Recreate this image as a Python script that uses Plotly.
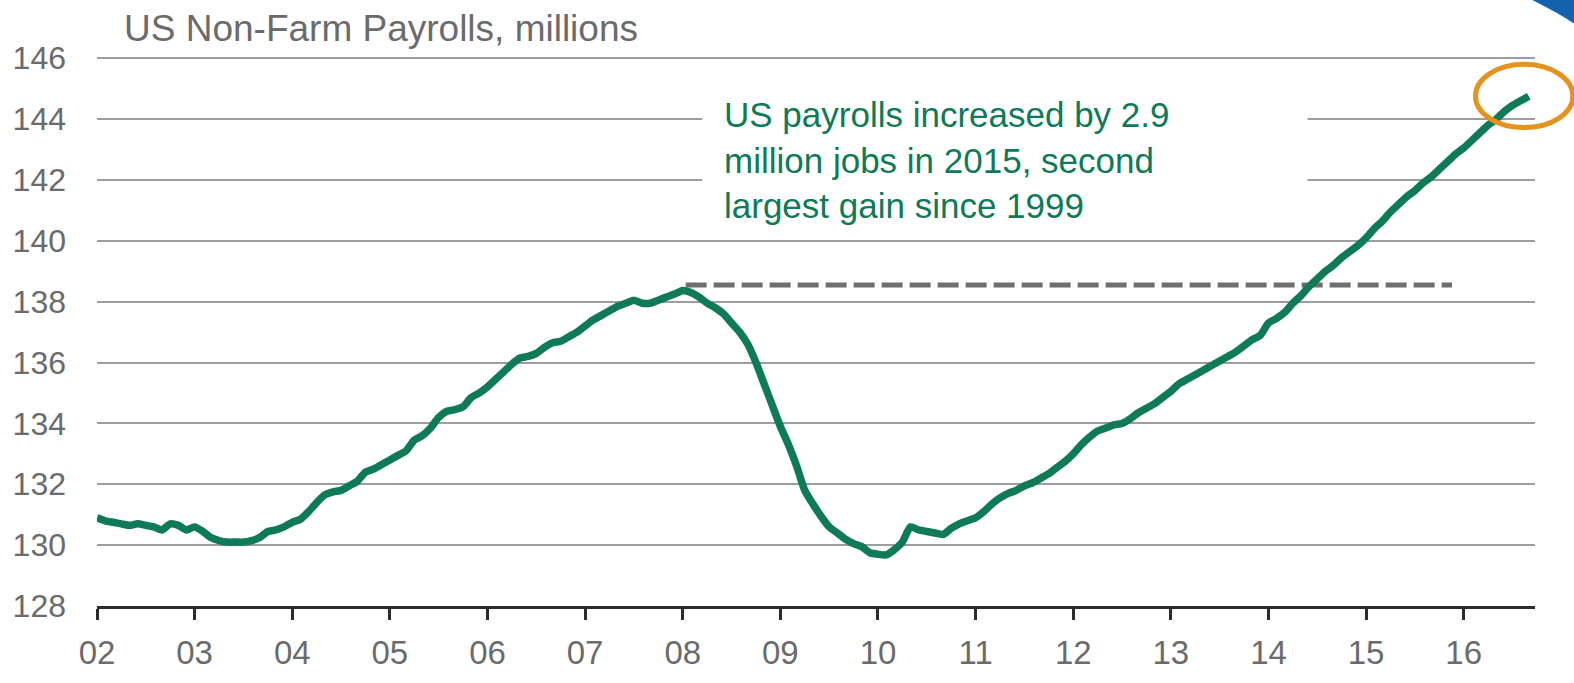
import plotly.graph_objects as go

# Monthly US non-farm payrolls (millions), Jan 2002 - Sep 2016
payrolls_by_year = {
    2002: [130.9, 130.8, 130.75, 130.7, 130.65, 130.7, 130.65, 130.6, 130.5, 130.7, 130.65, 130.5],
    2003: [130.6, 130.45, 130.25, 130.15, 130.1, 130.1, 130.1, 130.15, 130.25, 130.45, 130.5, 130.6],
    2004: [130.75, 130.85, 131.1, 131.4, 131.65, 131.75, 131.8, 131.95, 132.1, 132.4, 132.5, 132.65],
    2005: [132.8, 132.95, 133.1, 133.45, 133.6, 133.85, 134.2, 134.4, 134.45, 134.55, 134.85, 135.0],
    2006: [135.2, 135.45, 135.7, 135.95, 136.15, 136.2, 136.3, 136.5, 136.65, 136.7, 136.85, 137.0],
    2007: [137.2, 137.4, 137.55, 137.7, 137.85, 137.95, 138.05, 137.95, 137.95, 138.05, 138.15, 138.25],
    2008: [138.37, 138.3, 138.15, 137.95, 137.8, 137.6, 137.3, 137.0, 136.6, 136.0, 135.3, 134.6],
    2009: [133.9, 133.3, 132.6, 131.8, 131.35, 130.95, 130.6, 130.4, 130.2, 130.05, 129.95, 129.75],
    2010: [129.7, 129.68, 129.85, 130.1, 130.6, 130.5, 130.45, 130.4, 130.35, 130.55, 130.7, 130.8],
    2011: [130.9, 131.1, 131.35, 131.55, 131.7, 131.8, 131.95, 132.05, 132.2, 132.35, 132.55, 132.75],
    2012: [133.0, 133.3, 133.55, 133.75, 133.85, 133.95, 134.0, 134.15, 134.35, 134.5, 134.65, 134.85],
    2013: [135.05, 135.3, 135.45, 135.6, 135.75, 135.9, 136.05, 136.2, 136.35, 136.55, 136.75, 136.9],
    2014: [137.3, 137.45, 137.65, 137.95, 138.2, 138.5, 138.75, 139.0, 139.2, 139.45, 139.65, 139.85],
    2015: [140.1, 140.4, 140.65, 140.95, 141.2, 141.45, 141.65, 141.9, 142.1, 142.35, 142.6, 142.85],
    2016: [143.05, 143.3, 143.55, 143.8, 144.0, 144.25, 144.45, 144.6, 144.75],
}

# Pre-recession peak level (dashed reference) and its span
peak_level = 138.55
peak_span = [2008.03, 2015.88]

year_ticks = list(range(2002, 2017))
year_labels = [f"{y % 100:02d}" for y in year_ticks]
y_ticks = list(range(128, 147, 2))

title_text = "US Non-Farm Payrolls, millions"
note_text = ("US payrolls increased by 2.9<br>"
             "million jobs in 2015, second<br>"
             "largest gain since 1999")

# Build a fractional-year time axis from the monthly values
t, v = [], []
for year, vals in payrolls_by_year.items():
    for m, val in enumerate(vals):
        t.append(year + m / 12)
        v.append(val)

GREEN = "#0f7a58"
GREY_TXT = "#6b6b6b"
FONT = "Liberation Sans, Arial, sans-serif"

fig = go.Figure()

fig.add_trace(go.Scatter(
    x=peak_span, y=[peak_level, peak_level], mode="lines",
    line=dict(color="#6f6f6f", width=5, dash="21px,7px"),
    hoverinfo="skip", showlegend=False,
))

fig.add_trace(go.Scatter(
    x=t, y=v, mode="lines",
    line=dict(color=GREEN, width=7.5, shape="spline", smoothing=0.6),
    showlegend=False,
))

# White panel behind the note, hiding the gridlines there
fig.add_shape(type="rect", xref="x", yref="y", layer="between",
              x0=2008.2, x1=2014.4, y0=140.95, y1=144.7,
              fillcolor="white", line=dict(width=0))

fig.add_annotation(
    x=2008.4, y=144.85, xref="x", yref="y", xanchor="left", yanchor="top",
    text=note_text, showarrow=False, align="left",
    font=dict(family=FONT, size=35, color=GREEN),
)

fig.add_annotation(
    x=0.0174, y=1.0, xref="paper", yref="paper", xanchor="left", yanchor="bottom",
    yshift=6, text=title_text, showarrow=False,
    font=dict(family=FONT, size=37, color=GREY_TXT),
)

# Orange highlight ring round the latest reading
fig.add_shape(type="circle", xref="paper", yref="paper",
              x0=0.9586, x1=1.0264, y0=0.8715, y1=0.9867,
              line=dict(color="#e5921f", width=5))

# Blue corner accent
fig.add_shape(type="path", xref="paper", yref="paper",
              path="M 0.9965,1.106 L 1.03,1.106 L 1.03,1.056 Q 1.02,1.075 0.9965,1.106 Z",
              fillcolor="#1462ae", line=dict(width=0))

fig.update_layout(
    width=1574, height=683,
    margin=dict(l=97, r=39, t=57, b=62),
    paper_bgcolor="white", plot_bgcolor="white",
    showlegend=False,
)

fig.update_xaxes(
    range=[2002, 2016.73], tickvals=year_ticks, ticktext=year_labels,
    showgrid=False, zeroline=False,
    showline=True, linecolor="#2b2b2b", linewidth=2.5,
    ticks="outside", ticklen=11, tickwidth=2.5, tickcolor="#2b2b2b",
    ticklabelstandoff=5,
    tickfont=dict(family=FONT, size=33, color=GREY_TXT),
)

fig.update_yaxes(
    range=[128, 146.04], tickvals=y_ticks,
    showgrid=True, gridcolor="#9d9d9d", gridwidth=2,
    zeroline=False, showline=False, ticks="",
    ticklabelstandoff=30,
    tickfont=dict(family=FONT, size=32, color=GREY_TXT),
)

fig.write_html("out.html")
